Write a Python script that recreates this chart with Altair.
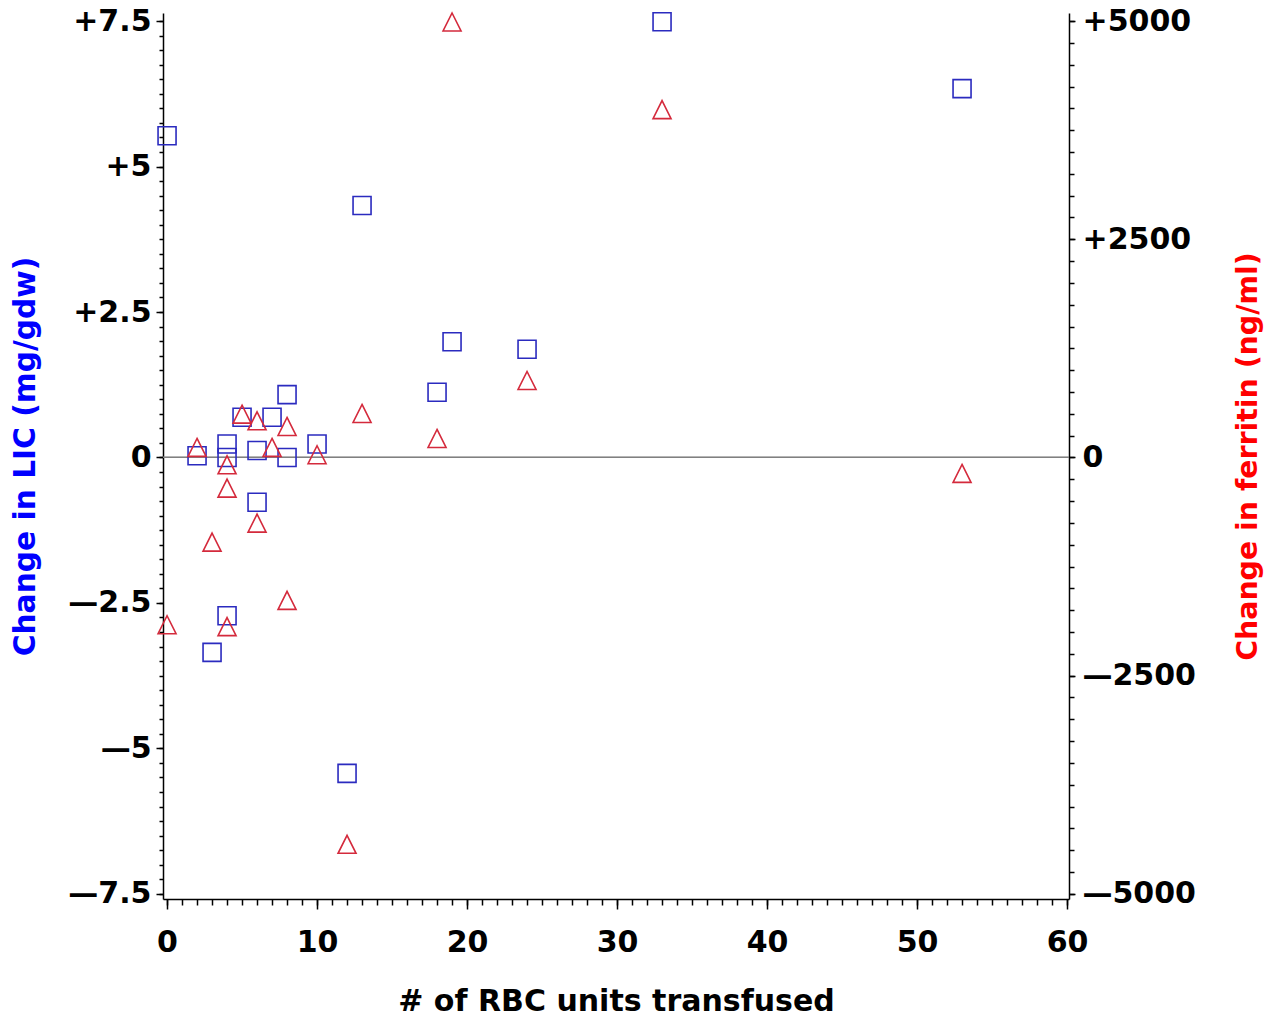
import altair as alt
import pandas as pd
import numpy as np

# Data
lic_x = [0, 33, 53, 13, 19, 24, 18, 8, 5, 7, 2, 4, 4, 6, 8, 10, 6, 4, 3, 12]
lic_y = [5.53, 7.49, 6.34, 4.33, 1.99, 1.86, 1.12, 1.08, 0.69, 0.69, 0.03, 0.23, 0.0, 0.12, 0.0, 0.23, -0.77, -2.72, -3.35, -5.43]

fer_x = [19, 33, 53, 24, 13, 18, 5, 6, 8, 2, 7, 4, 10, 4, 6, 3, 8, 4, 0, 12]
fer_y = [4990, 3986, -183, 882, 504, 218, 496, 420, 355, 115, 115, -84, 31, -351, -752, -970, -1638, -1939, -1917, -4433]

# Axis ticks
x_major = [0, 10, 20, 30, 40, 50, 60]
x_minor = list(range(0, 61))
lic_major = [-7.5, -5, -2.5, 0, 2.5, 5, 7.5]
lic_minor = [round(v, 2) for v in np.arange(-7.5, 7.51, 0.25)]
fer_major = [-5000, -2500, 0, 2500, 5000]
fer_minor = list(range(-5000, 5001, 250))

X_DOM = [-0.27, 60.13]
LIC_DOM = [-7.59, 7.64]
FER_DOM = [LIC_DOM[0] * 2000 / 3, LIC_DOM[1] * 2000 / 3]

W, H = 906, 886
FONT = "DejaVu Sans"

lic_df = pd.DataFrame({"x": lic_x, "y": lic_y})
fer_df = pd.DataFrame({"x": fer_x, "y": fer_y})

sign_expr = ("datum.value > 0 ? '+' + format(datum.value, '~g') : "
             "(datum.value < 0 ? '\u2014' + format(-datum.value, '~g') : '0')")

xscale = alt.Scale(domain=X_DOM, nice=False, zero=False)
lscale = alt.Scale(domain=LIC_DOM, nice=False, zero=False)
fscale = alt.Scale(domain=FER_DOM, nice=False, zero=False)

common_axis = dict(domainColor="black", tickColor="black", labelFont=FONT,
                   labelFontSize=30, labelFontWeight="bold", labelColor="black",
                   titleFont=FONT, titleFontWeight="bold",
                   grid=False, labelOverlap=False, labelBound=False, labelFlush=False)

zero_rule = alt.Chart(lic_df).mark_rule(color="#808080", strokeWidth=1).encode(
    y=alt.Y(datum=0, type="quantitative", scale=lscale, axis=None)
)

squares = alt.Chart(lic_df).mark_point(
    shape="square", size=324, filled=False, color="#2b2bbf", strokeWidth=1.6, opacity=1
).encode(
    x=alt.X("x:Q", scale=xscale,
            axis=alt.Axis(orient="bottom", values=x_major, tickSize=10, labelPadding=18,
                          title="# of RBC units transfused", titleX=W / 2, titleY=102,
                          titleBaseline="middle", titleAlign="center", titleColor="black",
                          titleFontSize=30, format="d", **common_axis)),
    y=alt.Y("y:Q", scale=lscale,
            axis=alt.Axis(orient="left", values=lic_major, tickSize=7, labelPadding=5,
                          labelExpr=sign_expr, title="Change in LIC (mg/gdw)",
                          titleColor="#0000ff", titleAngle=270, titleX=-138, titleY=H / 2,
                          titleBaseline="middle", titleAlign="center", titleFontSize=29.7,
                          **common_axis)),
)

triangles = alt.Chart(fer_df).mark_point(
    shape="M0,-1L1,1L-1,1Z", size=324, filled=False, color="#d42a3c", strokeWidth=1.6, opacity=1
).encode(
    x=alt.X("x:Q", scale=xscale, axis=None),
    y=alt.Y("y:Q", scale=fscale,
            axis=alt.Axis(orient="right", values=fer_major, tickSize=6, labelPadding=7,
                          labelExpr=sign_expr, title="Change in ferritin (ng/ml)",
                          titleColor="#ff0000", titleAngle=270, titleX=178, titleY=H / 2,
                          titleBaseline="middle", titleAlign="center", titleFontSize=28.4,
                          **common_axis)),
)

minor_left = alt.Chart(lic_df).mark_point(opacity=0).encode(
    x=alt.X("x:Q", scale=xscale,
            axis=alt.Axis(orient="bottom", values=x_minor, tickSize=6, labels=False,
                          domain=False, title=None, tickColor="black", grid=False)),
    y=alt.Y("y:Q", scale=lscale,
            axis=alt.Axis(orient="left", values=lic_minor, tickSize=4, labels=False,
                          domain=False, title=None, tickColor="black", grid=False)),
)

minor_right = alt.Chart(fer_df).mark_point(opacity=0).encode(
    x=alt.X("x:Q", scale=xscale, axis=None),
    y=alt.Y("y:Q", scale=fscale,
            axis=alt.Axis(orient="right", values=fer_minor, tickSize=5, labels=False,
                          domain=False, title=None, tickColor="black", grid=False)),
)

chart = alt.layer(zero_rule, squares, triangles, minor_left, minor_right).resolve_scale(
    x="independent", y="independent"
).properties(
    width=W, height=H,
    autosize=alt.AutoSizeParams(type="none"),
    padding={"left": 155, "top": 5, "right": 205, "bottom": 117},
).configure_view(stroke=None).configure_axis(domainWidth=1.5, tickWidth=1.5)

chart.save("out.html", embed_options={"renderer": "svg", "actions": False})
